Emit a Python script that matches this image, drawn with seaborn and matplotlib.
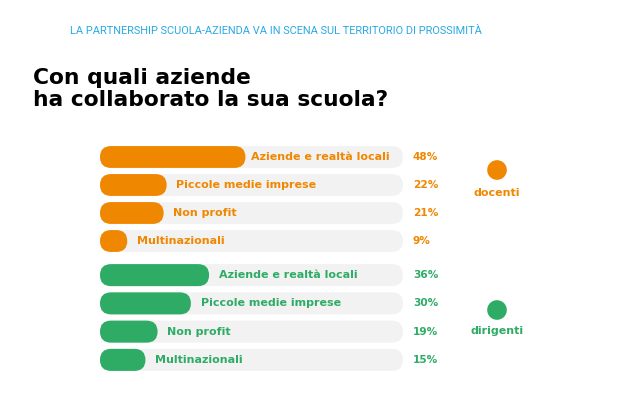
import matplotlib
matplotlib.use("Agg")
import matplotlib.pyplot as plt
import seaborn as sns
from matplotlib.patches import FancyBboxPatch

categories = ["Aziende e realtà locali", "Piccole medie imprese", "Non profit", "Multinazionali"]
docenti = [48, 22, 21, 9]
dirigenti = [36, 30, 19, 15]
groups = ["docenti", "dirigenti"]
title_top = "LA PARTNERSHIP SCUOLA-AZIENDA VA IN SCENA SUL TERRITORIO DI PROSSIMITÀ"
heading = "Con quali aziende\nha collaborato la sua scuola?"

ORANGE = "#F08700"
GREEN = "#2EAC66"
TRACK = "#F2F2F2"
BLUE = "#2AAAE2"

sns.set_theme(style="white")
plt.rcParams['font.family'] = ['DejaVu Sans']

W, H = 620, 393
fig = plt.figure(figsize=(W / 100, H / 100), dpi=100)
fig.patch.set_facecolor("white")

def px_axes(x0, x1, y0, y1):
    return fig.add_axes([x0 / W, 1 - y1 / H, (x1 - x0) / W, (y1 - y0) / H])

def round_patches(ax, px_per_x, px_per_y, r_px):
    patches = list(ax.patches)
    for p in patches:
        x, y = p.get_x(), p.get_y()
        w, h = p.get_width(), p.get_height()
        fc = p.get_facecolor()
        z = p.get_zorder()
        p.remove()
        aspect = px_per_x / px_per_y
        fb = FancyBboxPatch((x, y), w, h,
                            boxstyle=f"round,pad=0,rounding_size={r_px / px_per_x}",
                            mutation_aspect=aspect, facecolor=fc, edgecolor="none",
                            zorder=z, linewidth=0)
        ax.add_patch(fb)

X0, X1 = 100, 403
px_per_x = (X1 - X0) / 100

specs = [(docenti, ORANGE, 143, 255), (dirigenti, GREEN, 261, 374)]
for vals, col, ytop, ybot in specs:
    ax = px_axes(X0, X1, ytop, ybot)
    sns.barplot(x=[100] * len(categories), y=categories, color=TRACK, width=0.78,
                orient="h", ax=ax, saturation=1)
    sns.barplot(x=vals, y=categories, color=col, width=0.78, orient="h", ax=ax,
                saturation=1)
    ax.set_xlim(0, 100)
    ax.set_ylim(3.5, -0.5)
    px_per_y = (ybot - ytop) / 4
    round_patches(ax, px_per_x, px_per_y, 11)
    for i, (c, v) in enumerate(zip(categories, vals)):
        off = 1.8 if v >= 45 else 3.2
        ax.text(v + off, i, c, va="center", ha="left", color=col,
                fontsize=8, fontweight="bold")
        ax.text(103.3, i, f"{v}%", va="center", ha="left", color=col,
                fontsize=7.6, fontweight="bold", clip_on=False)
    ax.axis("off")

# overlay for texts/legend
ov = fig.add_axes([0, 0, 1, 1])
ov.set_xlim(0, W)
ov.set_ylim(H, 0)
ov.axis("off")
ov.scatter([497, 497], [170, 310], s=200, color=[ORANGE, GREEN], linewidths=0)
ov.text(497, 193, groups[0], ha="center", va="center", color=ORANGE,
        fontsize=8, fontweight="bold")
ov.text(497, 331, groups[1], ha="center", va="center", color=GREEN,
        fontsize=8, fontweight="bold")
ov.text(70, 31, title_top, ha="left", va="center", color=BLUE, fontsize=7.9,
        family=["Roboto", "DejaVu Sans"])
ov.text(33, 89, heading, ha="left", va="center", color="black", fontsize=15.7,
        fontweight="bold", linespacing=1.08)

fig.savefig("out.png", dpi=100, facecolor="white")
